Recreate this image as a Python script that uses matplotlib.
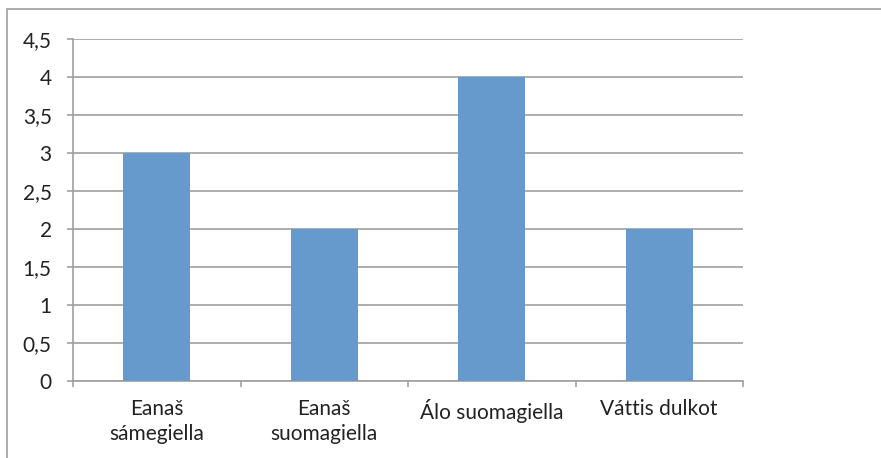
import matplotlib
matplotlib.use("Agg")
import matplotlib.pyplot as plt
from matplotlib.patches import Rectangle

categories = ["Eanaš\nsámegiella", "Eanaš\nsuomagiella", "Álo suomagiella", "Váttis dulkot"]
values = [3, 2, 4, 2]
yticks = [0, 0.5, 1, 1.5, 2, 2.5, 3, 3.5, 4, 4.5]
ytick_labels = ["0", "0,5", "1", "1,5", "2", "2,5", "3", "3,5", "4", "4,5"]

plt.rcParams['font.family'] = ['Lato', 'DejaVu Sans']

W, H = 881, 458
fig = plt.figure(figsize=(W / 100, H / 100), dpi=100)
fig.patch.set_facecolor("white")

# outer chart border
fig.add_artist(Rectangle((7 / W, -0.01), 1.1, (H - 9) / H + 0.01, transform=fig.transFigure,
                         fill=False, edgecolor="#A6A6A6", linewidth=1.3))

left, right, top, bottom = 73, 743, 39, 381
ax = fig.add_axes([left / W, 1 - bottom / H, (right - left) / W, (bottom - top) / H])

x = range(len(categories))
ax.bar(x, values, width=0.4, color="#6699CC", zorder=3)
ax.set_xlim(-0.5, len(categories) - 0.5)
ax.set_ylim(0, 4.5)

ax.set_yticks(yticks)
ax.set_yticklabels(ytick_labels)
ax.yaxis.grid(True, color="#A0A0A0", linewidth=1.2, zorder=0)

ax.set_xticks([i - 0.5 for i in range(len(categories) + 1)], minor=False)
ax.set_xticklabels([""] * (len(categories) + 1))
ax.set_xticks(list(x), minor=True)
ax.set_xticklabels(categories, minor=True, fontsize=15, color="#222222", linespacing=1.3)
ax.tick_params(axis="x", which="minor", length=0, pad=13)
ax.tick_params(axis="x", which="major", length=4.3, width=1.2, color="#A0A0A0", direction="out")
ax.tick_params(axis="y", length=4.3, width=1.2, color="#A0A0A0", pad=11, labelsize=15,
               labelcolor="#222222")

for s in ["top", "right"]:
    ax.spines[s].set_visible(False)
for s in ["left", "bottom"]:
    ax.spines[s].set_color("#A0A0A0")
    ax.spines[s].set_linewidth(1.2)

fig.savefig("out.png", dpi=100)
